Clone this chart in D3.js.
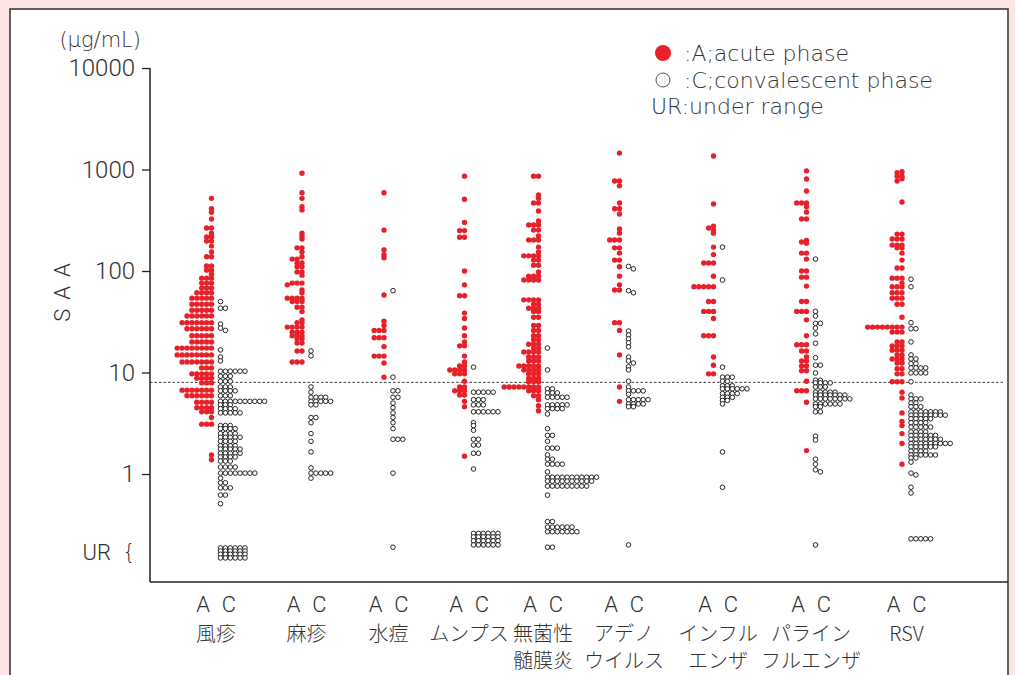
<!DOCTYPE html>
<html>
<head>
<meta charset="utf-8">
<script src="https://cdn.jsdelivr.net/npm/d3@7"></script>
<style>
  body { margin: 0; background: #fce4e4; }
  svg { display: block; }
</style>
</head>
<body>
<script>
// categories and their printed label lines
var categories = ['風疹', '麻疹', '水痘', 'ムンプス', '無菌性髄膜炎', 'アデノウイルス', 'インフルエンザ', 'パラインフルエンザ', 'RSV'];
var labelLines = [['風疹'], ['麻疹'], ['水痘'], ['ムンプス'], ['無菌性', '髄膜炎'], ['アデノ', 'ウイルス'], ['インフル', 'エンザ'], ['パライン', 'フルエンザ'], ['RSV']];

var yTicks = [1, 10, 100, 1000, 10000];
var urValue = 0.17;      // where the "UR {" label sits
var cutoff = 8;          // dashed reference line

// [SAA value (ug/mL), number of patients at that value]
var rubellaA = [[520,1],[410,1],[380,1],[325,1],[265,2],[236,1],[216,2],[197,2],[176,1],[154,1],[138,2],[112,2],[102,2],[93,1],[85,3],[76,3],[68,3],[61,4],[54,5],[47,5],[41,5],[36,6],[31,7],[27,6],[23,5],[20,5],[17.4,8],[14.9,8],[12.7,7],[11.1,3],[9.7,5],[8.8,4],[7.9,3],[6.7,7],[5.9,6],[5.1,4],[4.5,4],[4.1,3],[3.6,1],[3.1,3],[1.54,1],[1.38,1]];
var rubellaC = [[50,1],[43,2],[30,1],[27.4,1],[26,1],[16.7,1],[14.2,1],[13,1],[10.3,6],[9.2,3],[8.2,3],[7.2,3],[6.6,4],[5.9,3],[5.2,10],[4.8,3],[4.4,4],[4.0,5],[3.0,3],[2.8,4],[2.5,4],[2.3,5],[2.1,4],[1.9,4],[1.76,5],[1.6,5],[1.47,4],[1.34,3],[1.17,4],[1.02,8],[0.91,1],[0.82,2],[0.73,3],[0.62,2],[0.51,1],[0.187,6],[0.174,6],[0.162,6],[0.149,6]];
var measlesA = [[920,1],[590,1],[520,1],[430,1],[400,1],[236,1],[221,1],[207,1],[169,2],[154,1],[138,1],[131,2],[120,2],[110,2],[98,2],[91,1],[76,3],[73,1],[65,1],[61,1],[54,4],[50,3],[44,2],[40,1],[33,1],[31,2],[28,4],[25,3],[23,3],[21.5,2],[19.5,2],[16.3,2],[12.7,3]];
var measlesC = [[16.3,1],[14.6,1],[7.2,1],[6.4,1],[5.7,4],[5.2,5],[4.8,2],[3.6,2],[3.2,1],[2.5,1],[2.1,1],[1.65,1],[1.15,1],[1.02,5],[0.91,1]];
var varicellaA = [[590,1],[253,1],[161,1],[145,1],[135,1],[58,1],[32,1],[29,1],[26,3],[22,3],[18,1],[14.5,3],[12.4,1],[9.0,1]];
var varicellaC = [[64,1],[9.0,1],[6.6,2],[5.7,2],[5.0,1],[4.5,1],[4.0,1],[3.6,1],[3.2,1],[2.8,1],[2.2,3],[1.02,1],[0.19,1]];
var mumpsA = [[860,1],[510,1],[300,1],[250,2],[215,2],[100,1],[73,1],[57,2],[38.5,1],[34,1],[27.4,1],[23,1],[20,1],[18.3,2],[14.5,1],[12.7,1],[11.6,2],[10.6,4],[9.7,3],[8.2,1],[7.2,2],[6.6,3],[6.0,2],[5.2,1],[4.6,1],[1.5,1]];
var mumpsC = [[11.3,1],[6.4,5],[5.4,3],[4.8,3],[4.1,6],[3.2,1],[3.0,1],[2.7,1],[2.2,2],[1.93,2],[1.6,2],[1.12,1],[0.26,6],[0.24,6],[0.22,6],[0.20,6]];
var meningitisA = [[860,2],[560,1],[520,1],[468,2],[390,1],[311,1],[284,3],[253,2],[221,1],[202,3],[172,1],[154,1],[141,4],[128,2],[114,2],[98,1],[89,3],[81.5,4],[52,4],[47,2],[43,3],[40,2],[35,2],[29,2],[26,2],[23,2],[21,2],[19,3],[17.4,2],[15.9,4],[14.2,3],[13,3],[11.6,5],[10.6,4],[9.7,3],[8.8,3],[8.1,3],[7.2,8],[6.6,3],[5.9,2],[5.4,1],[4.7,1],[4.2,1]];
var meningitisC = [[17.4,1],[10.6,1],[6.9,2],[6.3,3],[5.7,5],[4.8,5],[4.4,4],[3.9,1],[2.8,1],[2.4,2],[2.1,1],[1.8,3],[1.54,1],[1.4,2],[1.25,4],[1.05,1],[0.93,11],[0.85,10],[0.76,9],[0.62,1],[0.34,2],[0.30,6],[0.27,7],[0.19,2]];
var adenoA = [[1450,1],[770,2],[690,1],[468,1],[410,2],[364,1],[259,1],[236,1],[202,3],[169,2],[150,1],[128,2],[110,1],[89,1],[73,1],[65,2],[31,2],[26,1],[14.9,1],[7.2,1],[5.2,1]];
var adenoC = [[111,1],[105,1],[64,1],[61,1],[25.6,1],[23.4,1],[21.4,1],[19.6,1],[17.9,1],[14.2,1],[13,1],[12.4,1],[11.4,1],[10.6,1],[8.2,1],[7.2,1],[6.6,4],[6.1,1],[5.4,5],[4.9,4],[4.6,2],[0.2,1]];
var influenzaA = [[1360,1],[458,1],[277,1],[265,1],[253,1],[236,1],[172,1],[145,1],[120,3],[89,1],[70,5],[50,2],[40,3],[34,1],[23,3],[14.2,1],[11.8,1],[9.7,2]];
var influenzaC = [[172,1],[81.5,1],[11.3,1],[9.0,3],[8.2,2],[7.4,3],[6.9,6],[6.2,4],[5.7,3],[5.3,2],[4.9,1],[1.65,1],[0.74,1]];
var parainfA = [[970,1],[806,1],[614,1],[468,3],[430,1],[380,1],[325,2],[200,1],[193,1],[188,1],[150,2],[131,1],[100,2],[87,2],[71,1],[50,2],[40,3],[33,1],[23,1],[18.8,3],[16.3,2],[14.2,1],[13,2],[11.6,2],[10.4,2],[8.2,1],[6.6,3],[5.1,1],[1.7,1]];
var parainfC = [[131,1],[40,1],[36,1],[30.5,2],[27.4,1],[24,1],[19.4,1],[14,1],[11.8,2],[9.9,1],[8.4,2],[7.9,4],[7.2,3],[6.4,5],[6.0,7],[5.5,8],[4.9,6],[4.6,2],[4.1,2],[2.36,1],[2.16,1],[1.4,1],[1.25,1],[1.1,1],[1.05,1],[0.2,1]];
var rsvA = [[950,1],[930,1],[860,2],[810,1],[770,1],[478,1],[231,2],[207,3],[180,3],[169,2],[150,1],[128,1],[107,2],[85,3],[76,1],[70,3],[61,3],[54,3],[47,2],[35,1],[28,8],[25,3],[20,2],[18.3,3],[16.6,3],[14.9,2],[13.6,3],[12.4,2],[10.9,2],[9.7,2],[8.1,3],[6.4,1],[5.6,1],[4.0,1],[3.3,1],[3.0,1],[2.5,1],[2.0,1],[1.25,1]];
var rsvC = [[83,1],[70,1],[31,1],[27,2],[20,1],[14.9,1],[13.6,2],[12.2,2],[11.1,4],[9.9,4],[8.1,1],[6.0,1],[5.5,3],[5.0,2],[4.6,3],[4.1,7],[3.8,8],[3.5,5],[3.2,4],[2.9,5],[2.6,4],[2.4,6],[2.2,7],[2.0,9],[1.85,6],[1.68,4],[1.54,6],[1.44,2],[1.31,1],[1.02,1],[0.98,1],[0.74,1],[0.65,1],[0.23,5]];

var acute = [rubellaA, measlesA, varicellaA, mumpsA, meningitisA, adenoA, influenzaA, parainfA, rsvA];
var conv = [rubellaC, measlesC, varicellaC, mumpsC, meningitisC, adenoC, influenzaC, parainfC, rsvC];

var W = 1015, H = 675;
var RED = '#e8202a';
var FONT = '"Noto Sans CJK JP", "Noto Sans", sans-serif';
var LATIN = '"DejaVu Sans", "Noto Sans", sans-serif';
var NUM = 'Roboto, "Noto Sans", sans-serif';
var STEP = 4.9;   // horizontal distance between stacked dots

var svg = d3.select('body').append('svg')
  .attr('width', W)
  .attr('height', H)
  .style('font-family', FONT);

svg.append('rect')
  .attr('x', 10).attr('y', 9)
  .attr('width', 998).attr('height', 720)
  .attr('fill', '#fff')
  .attr('stroke', '#3c3c3c')
  .attr('stroke-width', 1.6);

var y = d3.scaleLog().domain([0.0863, 10000]).range([582, 68]);
var x = d3.scaleOrdinal().domain(categories)
  .range([216, 306.5, 388.5, 469, 543, 624, 718, 811, 906.5]);

// axes
var yAxis = d3.axisLeft(y).tickValues(yTicks).tickSize(8).tickPadding(7)
  .tickFormat(d3.format('d'));
var gy = svg.append('g').attr('transform', 'translate(150,0)').call(yAxis);
gy.select('.domain').remove();
gy.selectAll('.tick line').attr('stroke', '#222').attr('stroke-width', 1.3);
gy.selectAll('.tick text')
  .attr('fill', '#333')
  .style('font-size', '24px')
  .style('font-weight', 300)
  .style('font-family', NUM);

svg.append('line')
  .attr('x1', 150).attr('x2', 150)
  .attr('y1', y(10000)).attr('y2', y.range()[0])
  .attr('stroke', '#222').attr('stroke-width', 1.5);
svg.append('line')
  .attr('x1', 150).attr('x2', 1008)
  .attr('y1', y.range()[0]).attr('y2', y.range()[0])
  .attr('stroke', '#222').attr('stroke-width', 1.5);

// cut-off line
svg.append('line')
  .attr('x1', 150).attr('x2', 1005)
  .attr('y1', y(cutoff)).attr('y2', y(cutoff))
  .attr('stroke', '#222').attr('stroke-width', 0.9)
  .attr('stroke-dasharray', '2.5,2');

svg.append('text')
  .attr('x', 111).attr('y', y(urValue)).attr('dy', '0.35em')
  .attr('text-anchor', 'end')
  .attr('fill', '#333')
  .style('font-size', '22px').style('font-weight', 300)
  .style('font-family', NUM)
  .text('UR');
svg.append('text')
  .attr('x', 129).attr('y', y(urValue)).attr('dy', '0.35em')
  .attr('text-anchor', 'middle')
  .attr('fill', '#333')
  .style('font-size', '21px').style('font-weight', 200)
  .style('font-family', LATIN)
  .text('{');

svg.append('text')
  .attr('x', 141).attr('y', 47)
  .attr('text-anchor', 'end')
  .attr('fill', '#333')
  .style('font-size', '21px').style('font-weight', 200)
  .style('font-family', LATIN)
  .text('(μg/mL)');

svg.append('text')
  .attr('transform', 'translate(70,288) rotate(-90)')
  .attr('text-anchor', 'middle')
  .attr('fill', '#333')
  .style('font-size', '22px').style('font-weight', 300)
  .style('font-family', NUM)
  .style('letter-spacing', '9px')
  .text('SAA');

// one-sided swarm: dots with the same value are pushed sideways
function swarm(pairs, x0, dir) {
  var placed = [];
  var out = [];
  pairs.slice().sort(function(a, b) { return b[0] - a[0]; }).forEach(function(p) {
    for (var i = 0; i < p[1]; i++) {
      var yy = y(p[0]);
      var k = 0;
      while (placed.some(function(d) { return d.k === k && Math.abs(d.y - yy) < 2.5; })) k++;
      placed.push({ k: k, y: yy });
      out.push({ x: x0 + dir * k * STEP, y: yy });
    }
  });
  return out;
}

var acuteDots = [], convDots = [];
categories.forEach(function(c, i) {
  acuteDots = acuteDots.concat(swarm(acute[i], x(c) - 4.5, -1));
  convDots = convDots.concat(swarm(conv[i], x(c) + 4.5, 1));
});

svg.append('g').selectAll('circle')
    .data(acuteDots)
  .enter().append('circle')
    .attr('cx', function(d) { return d.x; })
    .attr('cy', function(d) { return d.y; })
    .attr('r', 2.7)
    .attr('fill', RED);

svg.append('g').selectAll('circle')
    .data(convDots)
  .enter().append('circle')
    .attr('cx', function(d) { return d.x; })
    .attr('cy', function(d) { return d.y; })
    .attr('r', 2.3)
    .attr('fill', '#fff')
    .attr('stroke', '#111')
    .attr('stroke-width', 0.9);

// category labels
var lab = svg.append('g').attr('fill', '#333')
  .style('font-weight', 300);
categories.forEach(function(c, i) {
  lab.append('text').attr('x', x(c) - 13).attr('y', 612)
    .attr('text-anchor', 'middle').style('font-size', '22px')
    .style('font-family', NUM).text('A');
  lab.append('text').attr('x', x(c) + 13).attr('y', 612)
    .attr('text-anchor', 'middle').style('font-size', '22px')
    .style('font-family', NUM).text('C');
  labelLines[i].forEach(function(t, j) {
    lab.append('text').attr('x', x(c)).attr('y', 641 + j * 27)
      .attr('text-anchor', 'middle').style('font-size', '20px').text(t);
  });
});

// legend
var leg = svg.append('g').attr('fill', '#333')
  .style('font-weight', 200).style('font-family', LATIN);
leg.append('circle').attr('cx', 663).attr('cy', 53).attr('r', 8).attr('fill', RED);
leg.append('circle').attr('cx', 663).attr('cy', 80).attr('r', 7)
  .attr('fill', '#fff').attr('stroke', '#555').attr('stroke-width', 1);
leg.append('text').attr('x', 684).attr('y', 53).attr('dy', '0.36em')
  .style('font-size', '22px').text(':A;acute phase');
leg.append('text').attr('x', 684).attr('y', 80).attr('dy', '0.36em')
  .style('font-size', '22px').text(':C;convalescent phase');
leg.append('text').attr('x', 651).attr('y', 106).attr('dy', '0.36em')
  .style('font-size', '22px').text('UR:under range');
</script>
</body>
</html>
